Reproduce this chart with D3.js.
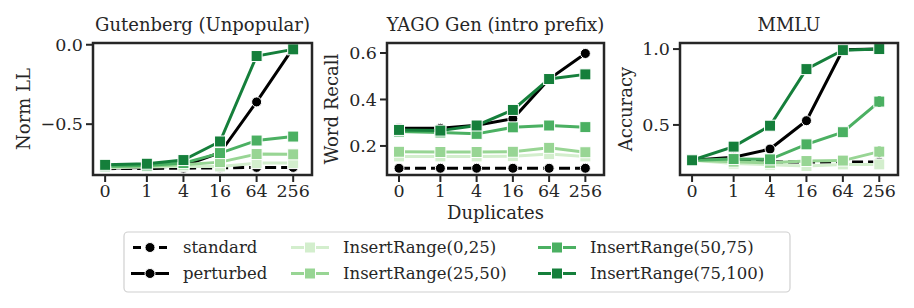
<!DOCTYPE html>
<html>
<head>
<meta charset="utf-8">
<script src="https://cdn.jsdelivr.net/npm/d3@7"></script>
<style>
  body { margin: 0; background: #fff; }
  text { font-family: "DejaVu Serif", serif; fill: #262626; }
</style>
</head>
<body>
<div id="chart"></div>
<script>
// duplicates on the x axis (symlog-like spacing)
const dups = [0, 1, 4, 16, 64, 256];
const seriesNames = ["standard", "perturbed", "InsertRange(0,25)", "InsertRange(25,50)", "InsertRange(50,75)", "InsertRange(75,100)"];
const seriesColors = ["#000000", "#000000", "#d3eecd", "#98d594", "#4bb062", "#157f3b"];

// Gutenberg (Unpopular) - Norm LL
const gutStandard  = [-0.780, -0.779, -0.777, -0.775, -0.772, -0.772];
const gutPerturbed = [-0.776, -0.773, -0.762, -0.680, -0.360, -0.020];
const gutIR0       = [-0.775, -0.770, -0.765, -0.766, -0.745, -0.745];
const gutIR25      = [-0.770, -0.765, -0.755, -0.739, -0.688, -0.690];
const gutIR50      = [-0.765, -0.760, -0.745, -0.682, -0.603, -0.578];
const gutIR75      = [-0.756, -0.749, -0.726, -0.609, -0.071, -0.029];

// YAGO Gen (intro prefix) - Word Recall
const yagoStandard  = [0.104, 0.104, 0.104, 0.104, 0.104, 0.104];
const yagoPerturbed = [0.276, 0.276, 0.289, 0.317, 0.488, 0.598];
const yagoIR0       = [0.155, 0.155, 0.155, 0.156, 0.165, 0.155];
const yagoIR25      = [0.175, 0.174, 0.174, 0.175, 0.192, 0.173];
const yagoIR50      = [0.262, 0.258, 0.252, 0.280, 0.288, 0.281];
const yagoIR75      = [0.269, 0.266, 0.288, 0.355, 0.488, 0.508];
const yagoPerturbedErr = [0.006, 0.006, 0.006, 0.006, 0.008, 0.016];
const yagoIR75Err      = [0.006, 0.006, 0.006, 0.008, 0.008, 0.015];

// MMLU - Accuracy
const mmluStandard  = [0.267, 0.262, 0.257, 0.255, 0.255, 0.255];
const mmluPerturbed = [0.267, 0.287, 0.341, 0.528, 0.995, 1.000];
const mmluIR0       = [0.267, 0.245, 0.238, 0.229, 0.240, 0.240];
const mmluIR25      = [0.267, 0.258, 0.250, 0.262, 0.265, 0.324];
const mmluIR50      = [0.267, 0.275, 0.273, 0.372, 0.452, 0.654];
const mmluIR75      = [0.267, 0.357, 0.495, 0.868, 0.993, 1.000];
const mmluIR0Err    = [0, 0, 0, 0.012, 0.015, 0.030];
const mmluIR25Err   = [0, 0, 0, 0.012, 0.015, 0.035];
const mmluIR50Err   = [0, 0, 0, 0.012, 0.025, 0.035];

const zeros = [0, 0, 0, 0, 0, 0];

const panels = [
  { title: "Gutenberg (Unpopular)", ylabel: "Norm LL", x0: 93, x1: 312, ylab: 24,
    ydomain: [-0.82, 0.011], yticks: [-0.5, 0.0], fmt: d3.format(".1f"),
    series: [gutStandard, gutPerturbed, gutIR0, gutIR25, gutIR50, gutIR75],
    errs: [zeros, zeros, zeros, zeros, zeros, zeros] },
  { title: "YAGO Gen (intro prefix)", ylabel: "Word Recall", x0: 387, x1: 604, ylab: 332,
    ydomain: [0.075, 0.643], yticks: [0.2, 0.4, 0.6], fmt: d3.format(".1f"),
    series: [yagoStandard, yagoPerturbed, yagoIR0, yagoIR25, yagoIR50, yagoIR75],
    errs: [zeros, yagoPerturbedErr, zeros, zeros, zeros, yagoIR75Err] },
  { title: "MMLU", ylabel: "Accuracy", x0: 680, x1: 898, ylab: 626,
    ydomain: [0.17, 1.04], yticks: [0.5, 1.0], fmt: d3.format(".1f"),
    series: [mmluStandard, mmluPerturbed, mmluIR0, mmluIR25, mmluIR50, mmluIR75],
    errs: [zeros, zeros, mmluIR0Err, mmluIR25Err, mmluIR50Err, zeros] }
];

const plotTop = 43, plotBottom = 175;
const K = Math.E / (Math.E - 1);
// matplotlib-style symlog (base e, linthresh 1)
const symlog = v => v <= 1 ? v * K : K + Math.log(v);

const svg = d3.select("#chart").append("svg")
  .attr("width", 914).attr("height", 308);

const minus = s => s.replace("-", "\u2212");

panels.forEach(p => {
  const xs = d3.scaleLinear().domain([-0.46, 7.84]).range([p.x0, p.x1]);
  const x = v => xs(symlog(v));
  const y = d3.scaleLinear().domain(p.ydomain).range([plotBottom, plotTop]);

  const g = svg.append("g");

  // x axis ticks
  const xa = g.append("g").attr("transform", `translate(0,${plotBottom})`);
  dups.forEach(d => {
    xa.append("line").attr("x1", x(d)).attr("x2", x(d)).attr("y1", 0).attr("y2", 7)
      .attr("stroke", "#262626").attr("stroke-width", 2);
    xa.append("text").attr("x", x(d)).attr("y", 22).attr("text-anchor", "middle")
      .attr("font-size", "17.5px").text(d);
  });

  // y axis ticks
  p.yticks.forEach(t => {
    g.append("line").attr("x1", p.x0 - 7).attr("x2", p.x0).attr("y1", y(t)).attr("y2", y(t))
      .attr("stroke", "#262626").attr("stroke-width", 2);
    g.append("text").attr("x", p.x0 - 10).attr("y", y(t)).attr("dy", "0.35em")
      .attr("text-anchor", "end").attr("font-size", "17.5px").text(minus(p.fmt(t)));
  });

  // series
  const line = d3.line().x((d, i) => x(dups[i])).y(d => y(d));
  const clip = "clip" + p.x0;
  g.append("clipPath").attr("id", clip).append("rect")
    .attr("x", p.x0).attr("y", plotTop - 8).attr("width", p.x1 - p.x0).attr("height", plotBottom - plotTop + 8);
  const plot = g.append("g").attr("clip-path", `url(#${clip})`);

  p.series.forEach((vals, si) => {
    const col = seriesColors[si];
    const sg = plot.append("g");
    sg.append("path").datum(vals).attr("d", line).attr("fill", "none")
      .attr("stroke", col).attr("stroke-width", 3)
      .attr("stroke-dasharray", si === 0 ? "11,5" : null);
    vals.forEach((v, i) => {
      if (si < 2) {
        sg.append("circle").attr("cx", x(dups[i])).attr("cy", y(v)).attr("r", 5)
          .attr("fill", col).attr("stroke", "#fff").attr("stroke-width", 1);
      } else {
        sg.append("rect").attr("x", x(dups[i]) - 5.5).attr("y", y(v) - 5.5)
          .attr("width", 11).attr("height", 11)
          .attr("fill", col).attr("stroke", "#fff").attr("stroke-width", 1);
      }
    });
    p.errs[si].forEach((e, i) => {
      if (e > 0) {
        sg.append("line").attr("x1", x(dups[i])).attr("x2", x(dups[i]))
          .attr("y1", y(vals[i] - e)).attr("y2", y(vals[i] + e))
          .attr("stroke", col).attr("stroke-width", 3);
      }
    });
  });

  // frame
  g.append("rect").attr("x", p.x0).attr("y", plotTop).attr("width", p.x1 - p.x0).attr("height", plotBottom - plotTop)
    .attr("fill", "none").attr("stroke", "#262626").attr("stroke-width", 2.5);

  g.append("text").attr("x", (p.x0 + p.x1) / 2).attr("y", 31).attr("text-anchor", "middle")
    .attr("font-size", "18px").text(p.title);
  g.append("text").attr("transform", `translate(${p.ylab},${(plotTop + plotBottom) / 2}) rotate(-90)`)
    .attr("text-anchor", "middle").attr("dy", "0.35em").attr("font-size", "18px").text(p.ylabel);
});

svg.append("text").attr("x", 495.5).attr("y", 219).attr("text-anchor", "middle")
  .attr("font-size", "18px").text("Duplicates");

// legend
const lg = svg.append("g");
lg.append("rect").attr("x", 124).attr("y", 232).attr("width", 666).attr("height", 60)
  .attr("rx", 4).attr("fill", "#fff").attr("stroke", "#d0d0d0").attr("stroke-width", 1.2);
const colX = [131, 291, 538];
const rowY = [247.5, 273.5];
seriesNames.forEach((name, i) => {
  const cx = colX[Math.floor(i / 2)], cy = rowY[i % 2];
  const col = seriesColors[i];
  lg.append("line").attr("x1", cx).attr("x2", cx + 38).attr("y1", cy).attr("y2", cy)
    .attr("stroke", col).attr("stroke-width", 3)
    .attr("stroke-dasharray", i === 0 ? "8,5" : null)
    .attr("stroke-dashoffset", i === 0 ? -2 : 0);
  if (i < 2) {
    lg.append("circle").attr("cx", cx + 19).attr("cy", cy).attr("r", 5)
      .attr("fill", col).attr("stroke", "#fff").attr("stroke-width", 1);
  } else {
    lg.append("rect").attr("x", cx + 19 - 5.5).attr("y", cy - 5.5).attr("width", 11).attr("height", 11)
      .attr("fill", col).attr("stroke", "#fff").attr("stroke-width", 1);
  }
  lg.append("text").attr("x", cx + 52).attr("y", cy).attr("dy", "0.35em")
    .attr("font-size", "16.5px").text(name);
});
</script>
</body>
</html>
